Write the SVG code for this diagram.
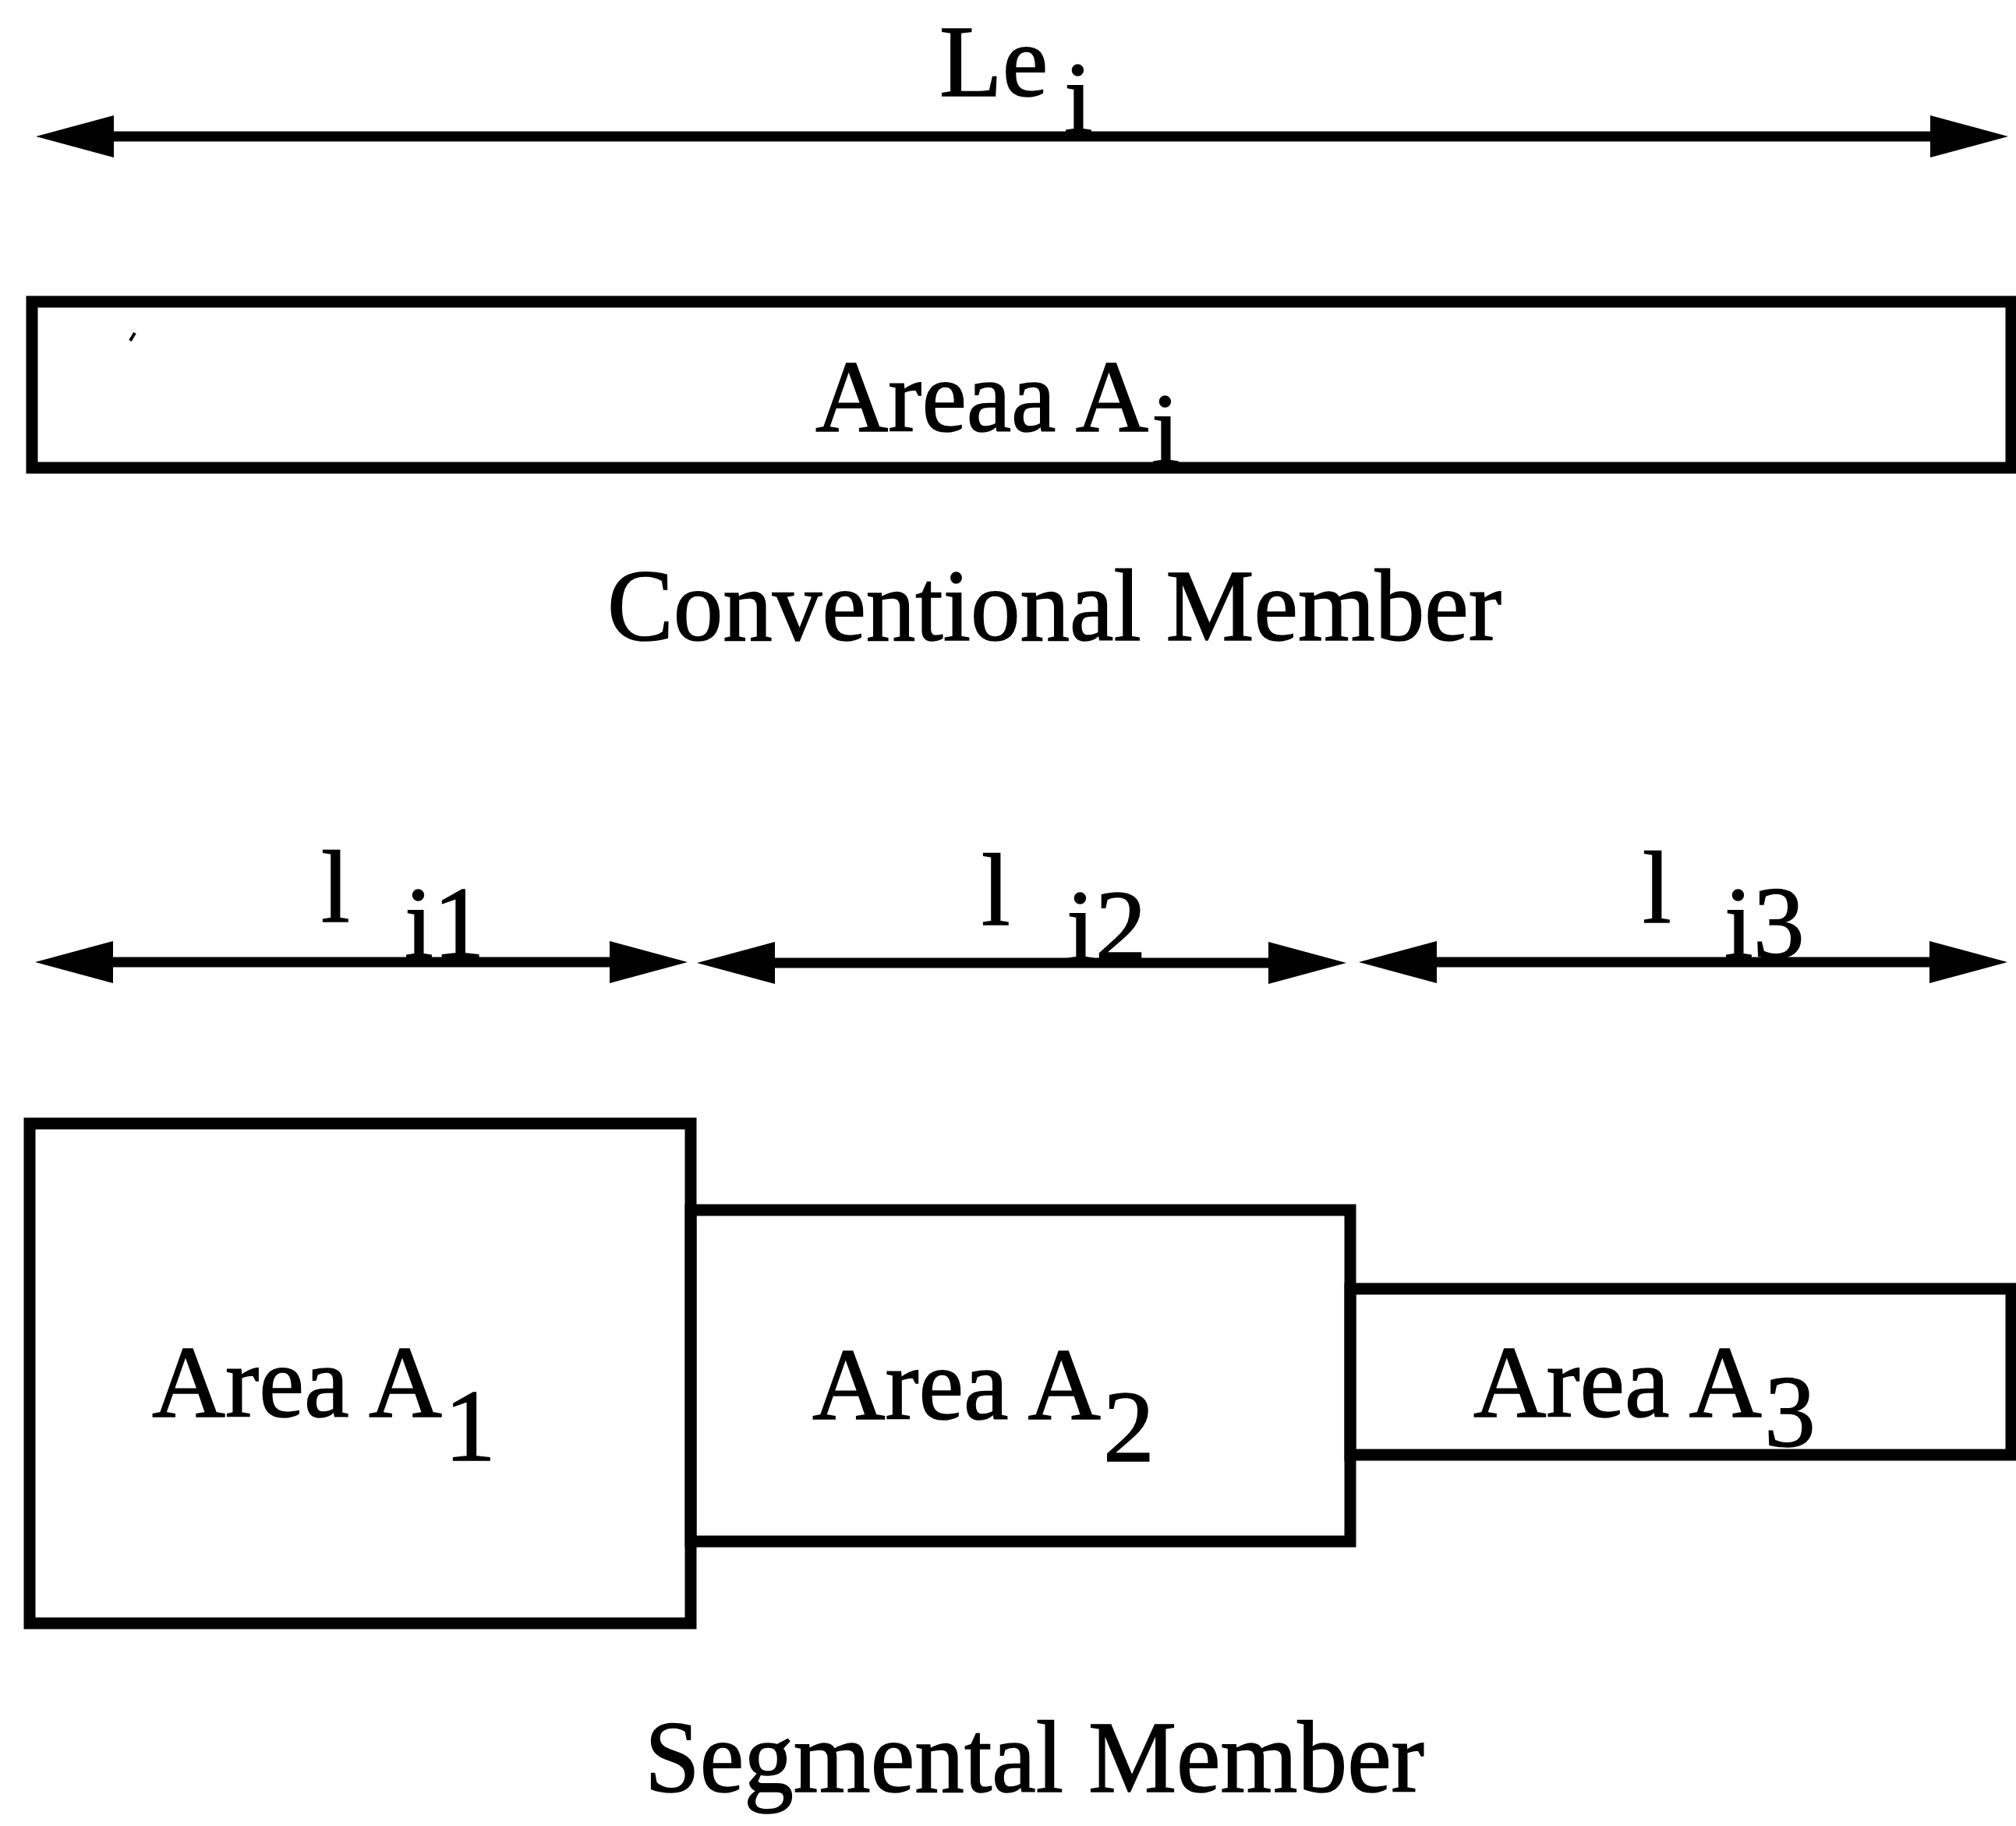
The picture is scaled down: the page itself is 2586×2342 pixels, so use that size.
<svg xmlns="http://www.w3.org/2000/svg" width="2586" height="2342" viewBox="0 0 2586 2342">
<style>
  .t { font-family: "Liberation Serif", "Times New Roman", serif; font-size: 132px; fill: #000; stroke: #000; stroke-width: 1.5px; }
  .box { fill: none; stroke: #000; stroke-width: 15; }
  .dim { stroke: #000; stroke-width: 13; fill: none; }
</style>
<defs>
  <marker id="ah" markerUnits="userSpaceOnUse" viewBox="0 -27 100 54" refX="0" refY="0" markerWidth="100" markerHeight="54" orient="auto-start-reverse">
    <path d="M0,-27 L100,0 L0,27 Z" fill="#000"/>
  </marker>
</defs>
<rect width="2586" height="2342" fill="#fff"/>

<g id="connectors">
  <line class="dim" x1="146" y1="175" x2="2476" y2="175" marker-start="url(#ah)" marker-end="url(#ah)"/>
  <line class="dim" x1="145" y1="1234" x2="782" y2="1234" marker-start="url(#ah)" marker-end="url(#ah)"/>
  <line class="dim" x1="994" y1="1235" x2="1627" y2="1235" marker-start="url(#ah)" marker-end="url(#ah)"/>
  <line class="dim" x1="1843" y1="1234" x2="2475" y2="1234" marker-start="url(#ah)" marker-end="url(#ah)"/>
</g>

<g id="label-Le">
  <text class="t" x="1205" y="123">Le</text>
  <text class="t" x="1365" y="170">i</text>
</g>

<g id="conventional-member">
  <rect class="box" x="41" y="387" width="2539" height="213"/>
  <line x1="167" y1="437" x2="173" y2="427" stroke="#000" stroke-width="4"/>
  <text class="t" x="1046" y="553" textLength="427" lengthAdjust="spacingAndGlyphs">Areaa A</text>
  <text class="t" x="1477" y="595">i</text>
</g>

<text id="caption-conventional" class="t" x="779" y="821" textLength="1147" lengthAdjust="spacingAndGlyphs">Conventional Member</text>

<g id="label-li1">
  <text class="t" x="412" y="1182">l</text>
  <text class="t" x="519" y="1228">i1</text>
</g>
<g id="label-li2">
  <text class="t" x="1259" y="1186">l</text>
  <text class="t" x="1368" y="1232">i2</text>
</g>
<g id="label-li3">
  <text class="t" x="2107" y="1183">l</text>
  <text class="t" x="2212" y="1228">i3</text>
</g>

<g id="segment-1">
  <rect class="box" x="38" y="1441" width="848" height="641"/>
  <text class="t" x="195" y="1817" textLength="372" lengthAdjust="spacingAndGlyphs">Area A</text>
  <text class="t" x="570" y="1873">1</text>
</g>
<g id="segment-2">
  <rect class="box" x="886" y="1552" width="846" height="425"/>
  <text class="t" x="1042" y="1820" textLength="370" lengthAdjust="spacingAndGlyphs">Area A</text>
  <text class="t" x="1415" y="1874">2</text>
</g>
<g id="segment-3">
  <rect class="box" x="1732" y="1653" width="848" height="213"/>
  <text class="t" x="1890" y="1817" textLength="370" lengthAdjust="spacingAndGlyphs">Area A</text>
  <text class="t" x="2263" y="1855">3</text>
</g>

<text id="caption-segmental" class="t" x="827" y="2298" textLength="1000" lengthAdjust="spacingAndGlyphs">Segmental Member</text>
</svg>
